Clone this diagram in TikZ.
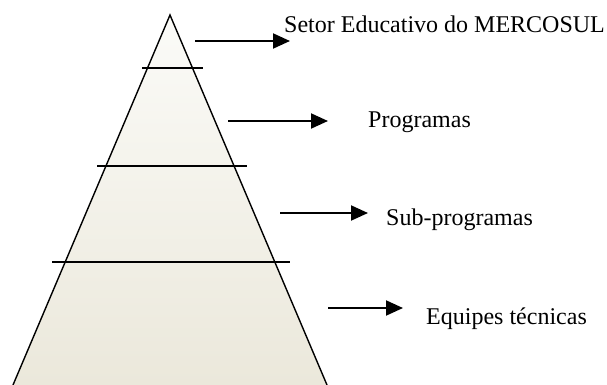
\documentclass[tikz,border=0pt]{standalone}
\usepackage{fontspec}
\setmainfont{Liberation Serif}
\usetikzlibrary{arrows.meta}
\definecolor{pyrtop}{HTML}{FBFBF8}
\definecolor{pyrbot}{HTML}{EBE8DB}
\begin{document}
\begin{tikzpicture}[x=1pt, y=-1pt,
    level/.style={line width=1.4pt},
    pointer/.style={line width=2pt, -{Triangle[length=17pt, width=15pt]}},
    label/.style={anchor=base west, inner sep=0pt, font=\fontsize{24}{28}\selectfont}]
      \useasboundingbox (0,0) rectangle (607,385);
      % Pyramid
      \coordinate (top) at (170,15);
      \coordinate (bl) at (13,385);
      \coordinate (br) at (327,385);
      \shade[top color=pyrtop, bottom color=pyrbot] (top) -- (bl) -- (br) -- cycle;
      \draw[level] (bl) -- (top) -- (br);

      % Levels
      \draw[level] (142,68) -- (203,68);
      \draw[level] (97,166) -- (247,166);
      \draw[level] (52,262) -- (290,262);

      % Labels
      \node[label] at (284,33) (setor) {Setor Educativo do MERCOSUL};
      \node[label] at (368,128) (prog) {Programas};
      \node[label] at (386,225) (sub) {Sub-programas};
      \node[label] at (426,324) (equip) {Equipes técnicas};

      % Arrows
      \coordinate (a1) at (195,41);  \coordinate (b1) at (290,41);
      \coordinate (a2) at (228,121); \coordinate (b2) at (328,121);
      \coordinate (a3) at (280,213); \coordinate (b3) at (368,213);
      \coordinate (a4) at (328,308); \coordinate (b4) at (403,308);
      \draw[pointer] (a1) -- (b1);
      \draw[pointer] (a2) -- (b2);
      \draw[pointer] (a3) -- (b3);
      \draw[pointer] (a4) -- (b4);
    \end{tikzpicture}
\end{document}
